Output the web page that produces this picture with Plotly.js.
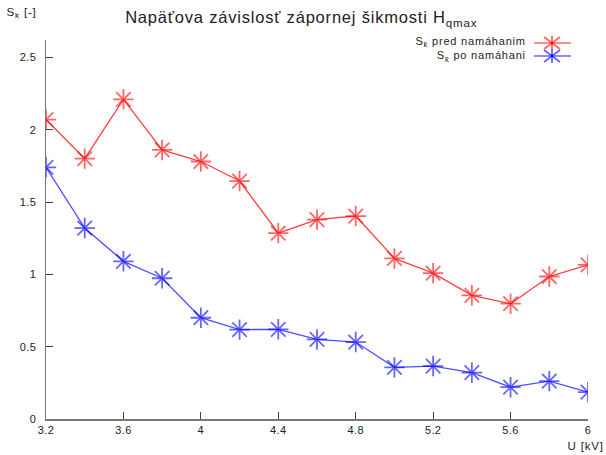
<!DOCTYPE html>
<html>
<head>
<meta charset="utf-8">
<script src="https://cdn.plot.ly/plotly-3.0.1.min.js"></script>
<style>
html,body{margin:0;padding:0;background:#fff;}
#chart{width:606px;height:455px;}
#chart .gtitle{letter-spacing:0.8px;}
#chart .annotation-text{letter-spacing:0.8px;}
#chart .xtick text, #chart .ytick text{letter-spacing:0.4px;}
</style>
</head>
<body>
<div id="chart"></div>
<script>
// Data
const voltage = [3.2, 3.4, 3.6, 3.8, 4.0, 4.2, 4.4, 4.6, 4.8, 5.0, 5.2, 5.4, 5.6, 5.8, 6.0];
const skewBefore = [2.07, 1.80, 2.21, 1.86, 1.78, 1.645, 1.285, 1.378, 1.403, 1.11, 1.008, 0.855, 0.797, 0.985, 1.065];
const skewAfter = [1.74, 1.32, 1.09, 0.973, 0.70, 0.618, 0.62, 0.55, 0.532, 0.357, 0.366, 0.32, 0.22, 0.262, 0.186];
const seriesNames = ["S<sub>k̄</sub> pred namáhanim", "S<sub>k̄</sub> po namáhani"];
const xTicks = [3.2, 3.6, 4.0, 4.4, 4.8, 5.2, 5.6, 6.0];
const yTicks = [0, 0.5, 1, 1.5, 2, 2.5];

const RED_LINE = 'rgba(255,0,0,0.75)', RED_MK = 'rgba(255,0,0,0.6)';
const BLUE_LINE = 'rgba(0,0,255,0.7)', BLUE_MK = 'rgba(0,0,255,0.6)';
const FONT = 'Liberation Sans, Arial, sans-serif';

const traces = [
  {x: voltage, y: skewBefore, name: seriesNames[0], mode: 'lines+markers', type: 'scatter',
   line: {color: RED_LINE, width: 1.3},
   marker: {symbol: 'asterisk-open', size: 17, color: RED_MK, line: {color: RED_MK, width: 1.8}}},
  {x: voltage, y: skewAfter, name: seriesNames[1], mode: 'lines+markers', type: 'scatter',
   line: {color: BLUE_LINE, width: 1.3},
   marker: {symbol: 'asterisk-open', size: 17, color: BLUE_MK, line: {color: BLUE_MK, width: 1.8}}}
];

// plot area geometry (pixels) for legend placement
const L = 46, R = 18, T = 40, B = 36, W = 606, H = 455;
const pw = W - L - R, ph = H - T - B;
const px = v => (v - L) / pw;
const py = v => (H - B - v) / ph;

function legendSample(cy, color) {
  const cx = 552, s = [];
  const ln = (x0, y0, x1, y1, w) => ({type: 'line', xref: 'paper', yref: 'paper',
    x0: px(x0), y0: py(y0), x1: px(x1), y1: py(y1), line: {color: color, width: w}});
  s.push(ln(534, cy, 571, cy, 1.3));
  s.push(ln(cx, cy - 7, cx, cy + 7, 1.8));
  s.push(ln(cx - 8, cy - 6, cx + 8, cy + 6, 1.8));
  s.push(ln(cx - 8, cy + 6, cx + 8, cy - 6, 1.8));
  return s;
}

const layout = {
  width: W, height: H,
  margin: {l: L, r: R, t: T, b: B, pad: 0},
  paper_bgcolor: '#fff', plot_bgcolor: '#fff',
  showlegend: false,
  font: {family: FONT, size: 11, color: '#222'},
  title: {text: 'Napäťova závislosť zápornej šikmosti H<sub>qmax</sub>',
          font: {family: FONT, size: 16.5, color: '#222'},
          x: 0.497, xanchor: 'center', y: 0.962, yanchor: 'middle', xref: 'container', yref: 'container'},
  xaxis: {range: [3.2, 6.0], tickvals: xTicks, ticktext: xTicks.map(String),
          showgrid: false, zeroline: false, showline: true, linecolor: '#777', linewidth: 1.5,
          ticks: 'inside', ticklen: 7, tickcolor: '#444', tickwidth: 1,
          tickfont: {family: FONT, size: 11, color: '#222'}, fixedrange: true},
  yaxis: {range: [0, 2.62], tickvals: yTicks, ticktext: yTicks.map(String),
          showgrid: false, zeroline: false, showline: true, linecolor: '#777', linewidth: 1.5,
          ticks: 'inside', ticklen: 7, tickcolor: '#444', tickwidth: 1,
          ticklabelstandoff: 6,
          tickfont: {family: FONT, size: 11, color: '#222'}, fixedrange: true},
  annotations: [
    {text: 'S<sub>k̄</sub> [-]', xref: 'paper', yref: 'paper', x: px(7), y: py(13),
     xanchor: 'left', yanchor: 'middle', showarrow: false, font: {family: FONT, size: 11.5, color: '#222'}},
    {text: 'U [kV]', xref: 'paper', yref: 'paper', x: px(603), y: py(446),
     xanchor: 'right', yanchor: 'middle', showarrow: false, font: {family: FONT, size: 11.5, color: '#222'}},
    {text: seriesNames[0] + '<br>' + seriesNames[1], xref: 'paper', yref: 'paper', x: px(528), y: py(49.5),
     xanchor: 'right', yanchor: 'middle', align: 'right', showarrow: false,
     font: {family: FONT, size: 11, color: '#222'}}
  ],
  shapes: [].concat(legendSample(43, RED_MK), legendSample(56, BLUE_MK))
};

Plotly.newPlot('chart', traces, layout, {displayModeBar: false, staticPlot: true});
</script>
</body>
</html>
